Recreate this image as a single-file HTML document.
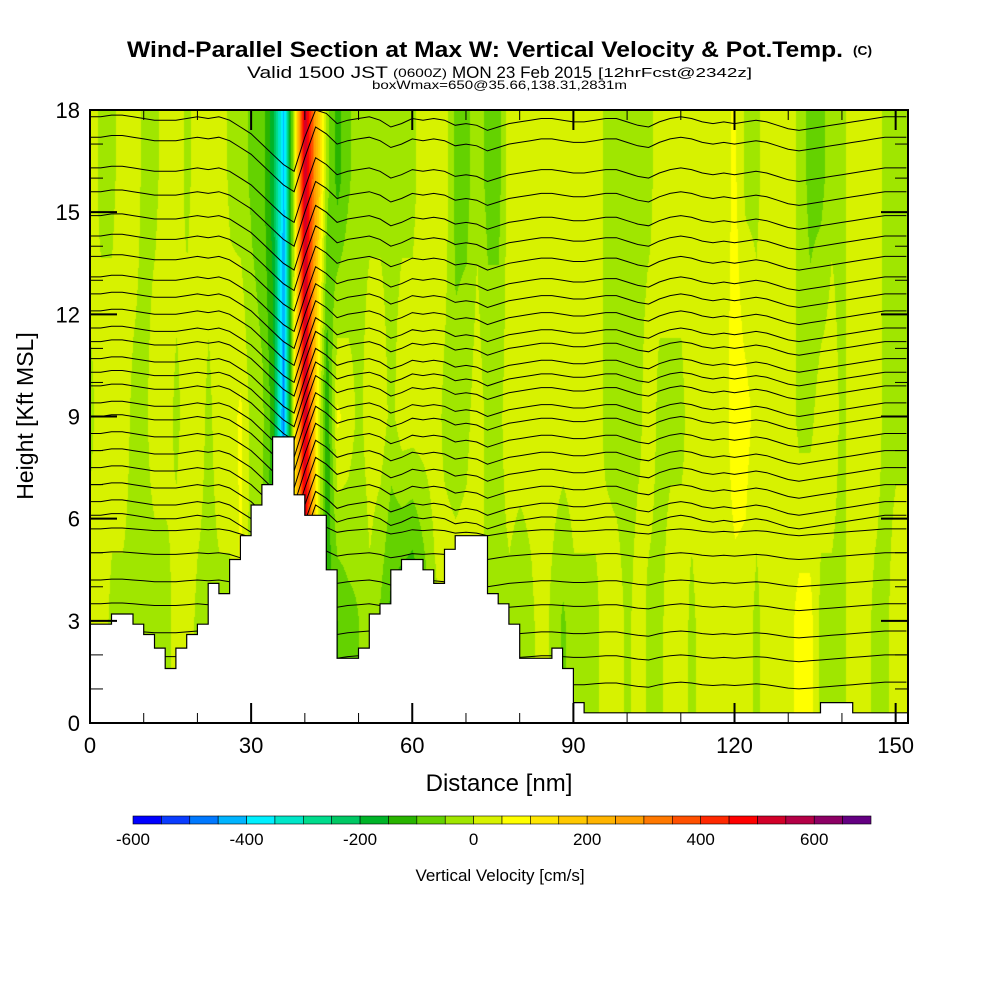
<!DOCTYPE html>
<html><head><meta charset="utf-8"><style>
html,body{margin:0;padding:0;background:#fff;width:1000px;height:1000px;overflow:hidden}
#wrap{position:relative;width:1000px;height:1000px}
canvas{position:absolute;left:0;top:0}
svg{position:absolute;left:0;top:0}
text{font-family:"Liberation Sans",sans-serif;fill:#000}
</style></head><body>
<div id="wrap">
<canvas id="field" width="1000" height="1000"></canvas>
<svg id="ov" width="1000" height="1000" xmlns="http://www.w3.org/2000/svg">
<g id="contours"></g>
<g id="terrain"></g>
<g id="axes"></g>
<g id="cbar"></g>
<text x="127" y="57" font-size="22" font-weight="bold" textLength="716" lengthAdjust="spacingAndGlyphs">Wind-Parallel Section at Max W: Vertical Velocity &amp; Pot.Temp.</text>
<text x="853" y="55" font-size="13" font-weight="bold" textLength="19" lengthAdjust="spacingAndGlyphs">(C)</text>
<text x="247" y="78" font-size="17" textLength="141" lengthAdjust="spacingAndGlyphs">Valid 1500 JST</text>
<text x="393" y="77" font-size="12" textLength="54" lengthAdjust="spacingAndGlyphs">(0600Z)</text>
<text x="452" y="78" font-size="17" textLength="140" lengthAdjust="spacingAndGlyphs">MON 23 Feb 2015</text>
<text x="598" y="77" font-size="13" textLength="154" lengthAdjust="spacingAndGlyphs">[12hrFcst@2342z]</text>
<text x="372" y="89" font-size="12" textLength="255" lengthAdjust="spacingAndGlyphs">boxWmax=650@35.66,138.31,2831m</text>
<text x="0" y="0" font-size="23" transform="translate(33,416) rotate(-90)" text-anchor="middle">Height [Kft MSL]</text>
<text x="499" y="791" font-size="24" text-anchor="middle">Distance [nm]</text>
<text x="500" y="881" font-size="17" text-anchor="middle">Vertical Velocity [cm/s]</text>
</svg>
</div>
<script>
// ---- data ----
const gridNm = [0,2,4,6,8,10,12,14,16,18,20,22,24,26,28,30,32,34,36,38,40,42,44,46,48,50,52,54,56,58,60,62,64,66,68,70,72,74,76,78,80,82,84,86,88,90,92,94,96,98,100,102,104,106,108,110,112,114,116,118,120,122,124,126,128,130,132,134,136,138,140,142,144,146,148,150,152];
const rowHeights = [3, 9, 16];
const wLow = [30,30,-15,-15,-15,-15,-30,-30,30,30,-15,-15,-15,-15,60,-30,-60,-150,-450,80,500,80,-120,-100,-70,-50,-15,-60,-120,-150,-170,-100,-15,30,30,30,30,-15,-15,-15,-40,-15,30,-15,-60,-15,-15,-15,30,30,-15,30,-15,-15,30,30,-15,30,30,30,30,30,-15,30,30,30,70,70,-15,-15,-15,30,30,-15,-15,30,30];
const wMid = [-15,30,30,30,-15,-15,30,30,-15,30,30,-15,30,30,60,-20,-40,-120,-480,80,550,100,-150,60,30,-15,30,30,-15,30,30,30,30,-15,-30,-15,30,-15,-15,30,30,30,30,30,30,30,30,30,-15,-30,-30,-15,30,-15,-15,-15,30,30,30,30,80,70,30,30,30,30,-15,-15,30,30,-15,30,30,30,-15,-15,-15];
const wHigh = [30,-15,-15,30,30,-15,-15,30,30,-15,30,30,30,-10,-30,-60,-80,-180,-420,30,550,250,-30,-120,-60,-15,-15,-15,-15,-15,-15,30,30,30,-70,-70,-15,-70,-70,30,30,30,30,30,30,30,30,30,-15,-15,-15,-15,-15,30,30,30,30,30,30,30,60,-15,-15,30,30,30,-15,-70,-70,-15,-15,30,30,30,-15,-15,-15];
const terrainKft = [2.9,2.9,3.2,3.2,2.9,2.6,2.2,1.6,2.2,2.6,2.9,4.1,3.8,4.8,5.5,6.4,7.0,8.4,8.4,6.7,6.1,6.1,4.5,1.9,1.9,2.2,3.2,3.5,4.5,4.8,4.8,4.5,4.1,5.1,5.5,5.5,5.5,3.8,3.5,2.9,1.9,1.9,1.9,2.2,1.6,0.6,0.3,0.3,0.3,0.3,0.3,0.3,0.3,0.3,0.3,0.3,0.3,0.3,0.3,0.3,0.3,0.3,0.3,0.3,0.3,0.3,0.3,0.3,0.6,0.6,0.6,0.3,0.3,0.3,0.3,0.3,0.3];
const thetaLevels = [17.8,17.2,16.3,15.6,14.9,14.3,13.7,13.1,12.6,12.1,11.6,11.2,10.7,10.3,9.9,9.4,9.0,8.5,8.0,7.5,7.0,6.5,6.1,5.7,5.0,4.2,3.5,2.7,2.0,1.2];
const thetaDisp = [0,0,0.05,0.05,0,-0.05,-0.1,-0.1,-0.1,-0.05,0,-0.05,0,-0.1,-0.3,-0.5,-0.8,-1.1,-1.4,-1.6,-0.6,0.3,0.1,-0.2,-0.1,-0.05,0,-0.1,-0.3,-0.2,-0.05,-0.1,-0.05,-0.1,-0.25,-0.2,-0.25,-0.4,-0.3,-0.2,-0.15,-0.1,-0.05,-0.05,-0.1,-0.15,-0.15,-0.1,-0.05,-0.05,-0.15,-0.25,-0.3,-0.15,-0.05,0,-0.05,-0.15,-0.2,-0.15,-0.2,-0.15,-0.1,-0.15,-0.25,-0.35,-0.4,-0.35,-0.3,-0.25,-0.2,-0.15,-0.1,-0.05,0,0,0];
const xTickLabels = [0,30,60,90,120,150];
const yTickLabels = [0,3,6,9,12,15,18];
const cbarEdges = [-600,-550,-500,-450,-400,-350,-300,-250,-200,-150,-100,-50,0,50,100,150,200,250,300,350,400,450,500,550,600,650,700];
const cbarLabels = [-600,-400,-200,0,200,400,600];
const cbarColors = ['#0000ff','#0a3cff','#0078ff','#00b4ff','#00f0ff','#00e6c8','#00dc8c','#00c864','#00b428','#28b400','#64d200','#a0e600','#d7f200','#ffff00','#ffe600','#ffc800','#ffb400','#ffa000','#ff7800','#ff5000','#ff2800','#ff0000','#d20028','#b40046','#8c0064','#640082'];

// ---- scales ----
const PL=90, PR=908, PT=110, PB=723, XMAX=152.3, YMAX=18;
const sx = nm => PL + nm*(PR-PL)/XMAX;
const sy = k => PB - k*(PB-PT)/YMAX;
const NS='http://www.w3.org/2000/svg';
function mk(tag, parent){const e=document.createElementNS(NS,tag);parent.appendChild(e);return e;}

function interpRow(row, nm){
  const step = gridNm[1]-gridNm[0];
  let i = Math.floor(nm/step); if(i<0) i=0; if(i>=gridNm.length-1) return row[gridNm.length-1];
  const t = (nm-gridNm[i])/step; return row[i]*(1-t)+row[i+1]*t;
}
function wAt(nm,k){
  const a=interpRow(wLow,nm), b=interpRow(wMid,nm), c=interpRow(wHigh,nm);
  if(k<=rowHeights[0]) return a;
  if(k<=rowHeights[1]){const t=(k-rowHeights[0])/(rowHeights[1]-rowHeights[0]);return a*(1-t)+b*t;}
  if(k<=rowHeights[2]){const t=(k-rowHeights[1])/(rowHeights[2]-rowHeights[1]);return b*(1-t)+c*t;}
  return c;
}
function colorFor(w){
  let i=0; while(i<cbarColors.length-1 && w>=cbarEdges[i+1]) i++;
  return cbarColors[i];
}
// ---- field ----
const ctx=document.getElementById('field').getContext('2d');
const img=ctx.createImageData(PR-PL,PB-PT);
const hexCache={};
function rgb(h){if(!hexCache[h])hexCache[h]=[parseInt(h.substr(1,2),16),parseInt(h.substr(3,2),16),parseInt(h.substr(5,2),16)];return hexCache[h];}
for(let py=0;py<PB-PT;py++){
  const k=(PB-(py+PT))*YMAX/(PB-PT);
  for(let px=0;px<PR-PL;px++){
    const nm=px*XMAX/(PR-PL);
    const c=rgb(colorFor(wAt(nm,k)));
    const o=(py*(PR-PL)+px)*4; img.data[o]=c[0];img.data[o+1]=c[1];img.data[o+2]=c[2];img.data[o+3]=255;
  }
}
ctx.putImageData(img,PL,PT);

// ---- contours ----
const cg=document.getElementById('contours');
thetaLevels.forEach((lv,li)=>{
  const pts=gridNm.map((nm,i)=>{
    const fade = lv<6 ? 0.5 : 1;
    return sx(nm).toFixed(1)+','+Math.max(PT,Math.min(PB,sy(lv+thetaDisp[i]*fade))).toFixed(1);
  });
  const p=mk('polyline',cg);
  
  
  p.setAttribute('points',pts.join(' '));
  p.setAttribute('fill','none');p.setAttribute('stroke','#000');p.setAttribute('stroke-width','1');
});

// ---- terrain ----
const tg=document.getElementById('terrain');
let d='M'+PL+','+PB;
gridNm.forEach((nm,i)=>{
  const x0=sx(nm), x1=sx(Math.min(nm+2,XMAX)), y=sy(terrainKft[i]);
  d+=' L'+x0.toFixed(1)+','+y.toFixed(1)+' L'+x1.toFixed(1)+','+y.toFixed(1);
});
d+=' L'+PR+','+PB+' Z';
const tp=mk('path',tg);


tp.setAttribute('d',d);tp.setAttribute('fill','#fff');tp.setAttribute('stroke','#000');tp.setAttribute('stroke-width','1.2');

// ---- axes ----
const ag=document.getElementById('axes');
const fr=mk('rect',ag);


fr.setAttribute('x',PL);fr.setAttribute('y',PT);fr.setAttribute('width',PR-PL);fr.setAttribute('height',PB-PT);
fr.setAttribute('fill','none');fr.setAttribute('stroke','#000');fr.setAttribute('stroke-width','2');
function line(x1,y1,x2,y2,w,name){const l=mk('line',ag);l.setAttribute('x1',x1);l.setAttribute('y1',y1);l.setAttribute('x2',x2);l.setAttribute('y2',y2);l.setAttribute('stroke','#000');l.setAttribute('stroke-width',w);}
for(let v=0;v<=150;v+=10){
  const major=v%30===0, L=major?20:10, x=sx(v);
  line(x,PB,x,PB-L,major?2:1,'x-tick');
  line(x,PT,x,PT+L,major?2:1,'x-tick-top');
}
for(let v=0;v<=18;v+=1){
  const major=v%3===0, L=major?27:13, y=sy(v);
  line(PL,y,PL+L,y,major?2:1,'y-tick');
  line(PR,y,PR-L,y,major?2:1,'y-tick-right');
}
xTickLabels.forEach(v=>{
  const t=mk('text',ag);
  
  
  t.setAttribute('x',sx(v));t.setAttribute('y',753);t.setAttribute('font-size','22');t.setAttribute('text-anchor','middle');t.textContent=v;
});
yTickLabels.forEach(v=>{
  const t=mk('text',ag);
  
  
  t.setAttribute('x',80);t.setAttribute('y',sy(v)+8);t.setAttribute('font-size','22');t.setAttribute('text-anchor','end');t.textContent=v;
});

// ---- colorbar ----
const bg=document.getElementById('cbar');
const CB0=133, CB1=871, CBT=816, CBH=8;
const cx=v=>CB0+(v-cbarEdges[0])*(CB1-CB0)/(cbarEdges[cbarEdges.length-1]-cbarEdges[0]);
cbarColors.forEach((c,i)=>{
  const r=mk('rect',bg);
  
  
  r.setAttribute('x',cx(cbarEdges[i]));r.setAttribute('y',CBT);r.setAttribute('width',cx(cbarEdges[i+1])-cx(cbarEdges[i]));r.setAttribute('height',CBH);
  r.setAttribute('fill',c);r.setAttribute('stroke','#000');r.setAttribute('stroke-width','0.6');
});
cbarLabels.forEach(v=>{
  const t=mk('text',bg);
  
  
  t.setAttribute('x',cx(v));t.setAttribute('y',845);t.setAttribute('font-size','17');t.setAttribute('text-anchor','middle');t.textContent=v;
});
</script>
</body></html>
